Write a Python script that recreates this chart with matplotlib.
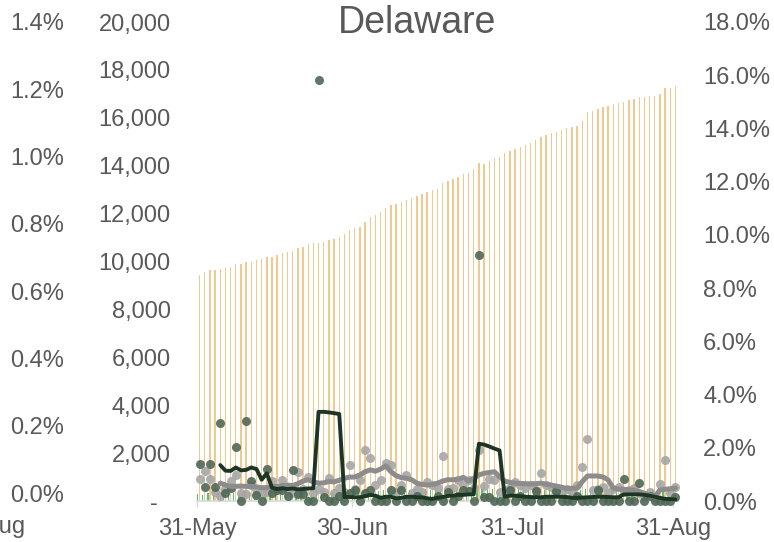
import matplotlib
matplotlib.use('Agg')
import matplotlib.pyplot as plt
import matplotlib.dates as mdates
import matplotlib.ticker as mticker
import numpy as np
import pandas as pd

# 93 days: 31-May .. 31-Aug
dates = pd.date_range('2020-05-31', periods=93, freq='D')

# cumulative (orange bars, left axis)
cumulative = [9440, 9550, 9650, 9650, 9670, 9720, 9770, 9880, 9910, 9970,
              9990, 10050, 10100, 10180, 10200, 10270, 10340, 10380, 10440, 10550,
              10620, 10720, 10760, 10790, 10810, 10910, 10940, 11020, 11150, 11320,
              11400, 11440, 11650, 11860, 11940, 12070, 12220, 12350, 12390, 12470,
              12580, 12660, 12730, 12810, 12900, 12990, 13040, 13270, 13350, 13440,
              13540, 13650, 13700, 13850, 14110, 14080, 14210, 14320, 14380, 14520,
              14600, 14710, 14780, 14860, 14960, 15060, 15200, 15280, 15370, 15420,
              15490, 15560, 15620, 15660, 15870, 16240, 16300, 16360, 16440, 16510,
              16560, 16620, 16670, 16740, 16800, 16860, 16870, 16900, 16900, 16990,
              17240, 17240, 17330]

# daily (green bars, left axis)
daily = [300, 250, 350, 300, 280, 320, 260, 350, 300, 270,
         330, 280, 350, 300, 250, 320, 280, 300, 260, 330,
         250, 300, 280, 320, 270, 300, 350, 330, 300, 380,
         420, 380, 450, 400, 500, 430, 480, 450, 420, 500,
         480, 450, 520, 470, 500, 450, 520, 480, 460, 500,
         520, 480, 550, 500, 470, 530, 480, 500, 460, 520,
         500, 470, 530, 490, 460, 520, 500, 480, 520, 470,
         500, 450, 480, 520, 470, 500, 450, 480, 500, 460,
         480, 450, 500, 470, 440, 480, 460, 500, 450, 470,
         480, 460, 500]

# dark dots (right axis, %)
dark_pts = [1.39, 0.54, 1.38, 0.54, 2.92, 0.30, 0.50, 2.04, 0.00, 3.00,
            0.75, 0.23, 0.00, 1.20, 0.30, 0.40, 0.40, 0.20, 1.17, 0.25,
            0.25, 0.00, 0.00, 15.82, 0.15, 0.00, 0.00, 0.20, 0.00, 0.30,
            0.41, 0.00, 0.30, 0.41, 0.00, 0.00, 0.00, 0.41, 0.00, 0.41,
            0.00, 0.00, 0.20, 0.00, 0.00, 0.00, 0.20, 0.00, 0.35, 0.00,
            0.20, 0.41, 0.39, 0.00, 9.24, 0.15, 0.15, 0.00, 0.00, 0.00,
            0.40, 0.00, 0.20, 0.00, 0.00, 0.39, 0.00, 0.00, 0.00, 0.39,
            0.00, 0.00, 0.00, 0.20, 0.00, 0.00, 0.00, 0.40, 0.00, 0.00,
            0.00, 0.00, 0.83, 0.00, 0.00, 0.67, 0.00, 0.20, 0.00, 0.00,
            0.00, 0.00, 0.16]

# grey dots (right axis, %)
grey_pts = [0.82, 1.14, 0.84, 0.35, 0.20, 0.44, 0.75, 0.99, 0.30, 0.25,
            0.60, 0.45, 0.30, 0.35, 0.75, 0.50, 0.80, 0.40, 0.30, 1.10,
            0.45, 0.91, 0.30, 0.45, 0.35, 0.85, 0.30, 0.50, 0.35, 1.35,
            0.45, 0.80, 1.92, 1.60, 0.60, 0.80, 1.42, 1.35, 0.35, 0.60,
            0.98, 0.30, 0.45, 0.35, 0.73, 0.60, 0.50, 1.69, 0.45, 0.50,
            0.79, 0.60, 0.79, 0.50, 1.90, 0.55, 0.82, 0.80, 0.35, 0.40,
            0.50, 0.73, 0.60, 0.48, 0.60, 0.41, 1.06, 0.60, 0.54, 0.35,
            0.41, 0.45, 0.35, 0.60, 1.29, 2.33, 0.41, 0.45, 0.52, 0.30,
            0.45, 0.52, 0.35, 0.40, 0.48, 0.30, 0.20, 0.35, 0.10, 0.64,
            1.54, 0.30, 0.52]

nan = np.nan
# dark line (right axis, %)
dark_avg = [nan, nan, nan, nan, 1.35, 1.14, 1.13, 1.26, 1.15, 1.17,
            1.26, 1.20, 0.80, 1.04, 0.50, 0.45, 0.48, 0.45, 0.47, 0.44,
            0.45, 0.47, 0.48, 3.35, 3.35, 3.33, 3.30, 3.27, 0.15, 0.15,
            0.14, 0.14, 0.18, 0.23, 0.20, 0.12, 0.16, 0.16, 0.10, 0.12,
            0.16, 0.16, 0.14, 0.14, 0.10, 0.08, 0.12, 0.15, 0.19, 0.20,
            0.23, 0.23, 0.25, 0.25, 2.15, 2.12, 2.05, 1.97, 1.90, 0.16,
            0.20, 0.20, 0.18, 0.16, 0.15, 0.14, 0.14, 0.16, 0.16, 0.16,
            0.16, 0.15, 0.12, 0.12, 0.13, 0.14, 0.15, 0.16, 0.16, 0.15,
            0.14, 0.14, 0.25, 0.25, 0.25, 0.25, 0.23, 0.20, 0.16, 0.12,
            0.08, 0.07, 0.06]

# grey line (right axis, %)
grey_avg = [nan, nan, nan, nan, 0.67, 0.60, 0.55, 0.55, 0.56, 0.55,
            0.55, 0.53, 0.50, 0.50, 0.55, 0.55, 0.58, 0.60, 0.58, 0.65,
            0.75, 0.80, 0.72, 0.67, 0.68, 0.73, 0.72, 0.78, 0.85, 0.90,
            0.90, 0.98, 1.10, 1.17, 1.12, 1.20, 1.32, 1.10, 0.95, 0.88,
            0.85, 0.80, 0.67, 0.62, 0.60, 0.62, 0.67, 0.75, 0.80, 0.80,
            0.82, 0.89, 0.75, 0.85, 0.98, 1.04, 1.07, 1.10, 0.91, 0.75,
            0.70, 0.67, 0.66, 0.65, 0.64, 0.65, 0.67, 0.63, 0.60, 0.56,
            0.52, 0.46, 0.48, 0.48, 0.73, 0.94, 0.94, 0.94, 0.90, 0.79,
            0.48, 0.45, 0.44, 0.42, 0.41, 0.35, 0.29, 0.22, 0.16, 0.41,
            0.44, 0.46, 0.48]

# ticks of the cut-off axis on the far left
left_ticks = [0, 0.2, 0.4, 0.6, 0.8, 1.0, 1.2, 1.4]

plt.rcParams['font.family'] = ['Liberation Sans', 'DejaVu Sans']
txt = '#595959'
fs = 17

W, H = 774, 542
fig = plt.figure(figsize=(W / 100, H / 100), dpi=100)
ax = fig.add_axes([197 / W, 41 / H, 481 / W, 479 / H])

x_mid = dates + pd.Timedelta(hours=12)
ax.bar(x_mid, cumulative, width=0.27, color='#F3C88E', zorder=1)
ax.bar(dates + pd.Timedelta(hours=3), daily, width=0.25, color='#4CC478', zorder=2)

ax.set_ylim(0, 20000)
ax.set_yticks(range(0, 20001, 2000))
ax.yaxis.set_major_formatter(mticker.FuncFormatter(lambda v, p: '-  ' if v == 0 else f'{v:,.0f}'))
ax.set_xlim(dates[0], dates[-1] + pd.Timedelta(days=1))
ax.set_xticks([pd.Timestamp('2020-05-31'), pd.Timestamp('2020-06-30'),
               pd.Timestamp('2020-07-31'), pd.Timestamp('2020-08-31')])
ax.xaxis.set_major_formatter(mdates.DateFormatter('%d-%b'))
ax.tick_params(axis='y', length=0, pad=19, labelsize=fs, labelcolor=txt)
ax.tick_params(axis='x', length=4, width=1, color='#D9D9D9', pad=8, labelsize=fs, labelcolor=txt)
for s in ['top', 'left', 'right']:
    ax.spines[s].set_visible(False)
ax.spines['bottom'].set_color('#D9D9D9')
ax.spines['bottom'].set_linewidth(1.2)

ax2 = ax.twinx()
ax2.plot(x_mid, grey_pts, 'o', ms=6.5, color='#A6A6A6', mec='none', alpha=0.9, clip_on=False)
ax2.plot(x_mid, dark_pts, 'o', ms=6.5, color='#4F6756', mec='none', alpha=0.9, clip_on=False)
ax2.plot(x_mid, grey_avg, color='#8C8C8C', lw=3.6, solid_capstyle='round')
ax2.plot(x_mid, dark_avg, color='#1C3524', lw=2.8, solid_capstyle='round')
ax2.set_ylim(0, 18)
ax2.set_yticks(range(0, 19, 2))
ax2.yaxis.set_major_formatter(mticker.FuncFormatter(lambda v, p: f'{v:.1f}%'))
ax2.tick_params(axis='y', length=0, pad=18, labelsize=fs, labelcolor=txt)
for s in ax2.spines.values():
    s.set_visible(False)

# axis of the neighbouring chart, cut off on the left
ax3 = fig.add_axes([68 / W, 49 / H, 1 / W, 471 / H])
ax3.set_ylim(0, 1.4)
ax3.set_yticks(left_ticks)
ax3.yaxis.set_major_formatter(mticker.FuncFormatter(lambda v, p: f'{v:.1f}%'))
ax3.tick_params(axis='y', length=0, pad=3, labelsize=fs, labelcolor=txt)
ax3.get_xaxis().set_visible(False)
ax3.patch.set_visible(False)
for s in ax3.spines.values():
    s.set_visible(False)
fig.text(25 / W, 1 - 527 / H, '31-Aug', ha='right', va='center', fontsize=fs, color=txt)

fig.text(417 / W, 1 - 23 / H, 'Delaware', ha='center', va='center', fontsize=27, color=txt)

fig.savefig('out.png', dpi=100)
